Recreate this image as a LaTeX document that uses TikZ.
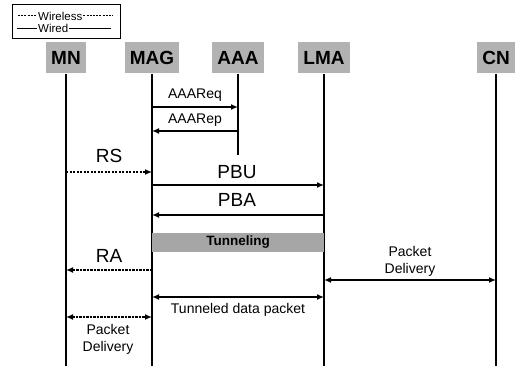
\documentclass[tikz,border=0pt]{standalone}
\usepackage{fontspec}
\setmainfont{Liberation Sans}
\usetikzlibrary{arrows.meta}

\begin{document}
\begin{tikzpicture}[x=1pt, y=-1pt, every node/.style={font=\fontsize{14}{17}\selectfont, align=center},
	hd/.style={fill=black!30, minimum height=31pt, inner xsep=5pt, font=\bfseries\fontsize{19}{20}\selectfont},
	big/.style={font=\fontsize{19}{20}\selectfont},
	wl/.style={line width=1.4pt, dash pattern=on 2.2pt off 1.3pt},
	wd/.style={line width=1.4pt},
	>={Latex[length=7pt, width=6pt]}]
	\useasboundingbox (0,0) rectangle (522,366);
	% legend
	\node[draw, line width=1pt, minimum width=108pt, minimum height=34pt] (key) at (66,22) {};
	\node[font=\fontsize{11.5}{12}\selectfont, anchor=west, inner sep=1pt] (kw) at (37,16) {Wireless};
	\node[font=\fontsize{11.5}{12}\selectfont, anchor=west, inner sep=1pt] (kd) at (37,28.5) {Wired};
	\draw[line width=1pt, dash pattern=on 2pt off 1.2pt] ([xshift=-19pt]kw.west) -- (kw.west);
	\draw[line width=1pt, dash pattern=on 2pt off 1.2pt] (kw.east) -- ([xshift=30pt]kw.east);
	\draw[line width=1pt] ([xshift=-20pt]kd.west) -- (kd.west);
	\draw[line width=1pt] (kd.east) -- ([xshift=42pt]kd.east);
	% entities and lifelines
	\foreach \n/\x in {MN/66, MAG/152, AAA/238, LMA/324, CN/496} {\node[hd] (\n) at (\x,58) {\n};}
	\foreach \n in {MN, MAG, LMA, CN} {\draw[line width=1.2pt] (\n.south) -- (\n |- 0,366);}
	\draw[line width=1.2pt] (AAA.south) -- (AAA |- 0,155);
	% messages
	\draw[wd, ->] (MAG |- 0,107) -- (AAA |- 0,107);
	\node (req) at (195,95) {AAAReq};
	\draw[wd, ->] (AAA |- 0,131) -- (MAG |- 0,131);
	\node (rep) at (195,120) {AAARep};
	\draw[wl, ->] (MN |- 0,172) -- (MAG |- 0,172);
	\node[big] (rs) at (109,156) {RS};
	\draw[wd, ->] (MAG |- 0,185) -- (LMA |- 0,185);
	\node[big] (pbu) at (237,172) {PBU};
	\draw[wd, ->] (LMA |- 0,215) -- (MAG |- 0,215);
	\node[big] (pba) at (237,200) {PBA};
	\node[fill=black!35, minimum width=172pt, minimum height=19pt, inner sep=0pt, font=\bfseries\fontsize{13.5}{14}\selectfont] (tun) at (238,242.5) {Tunneling};
	\draw[wl, ->] (MAG |- 0,270) -- (MN |- 0,270);
	\node[big] (ra) at (109,256) {RA};
	\draw[wd, <->] (LMA |- 0,280) -- (CN |- 0,280);
	\node (pd1) at (410,261) {Packet\\Delivery};
	\draw[wd, <->] (MAG |- 0,297) -- (LMA |- 0,297);
	\node (tdp) at (238,310) {Tunneled data packet};
	\draw[wl, <->] (MN |- 0,317) -- (MAG |- 0,317);
	\node (pd2) at (108,339) {Packet\\Delivery};
\end{tikzpicture}
\end{document}
